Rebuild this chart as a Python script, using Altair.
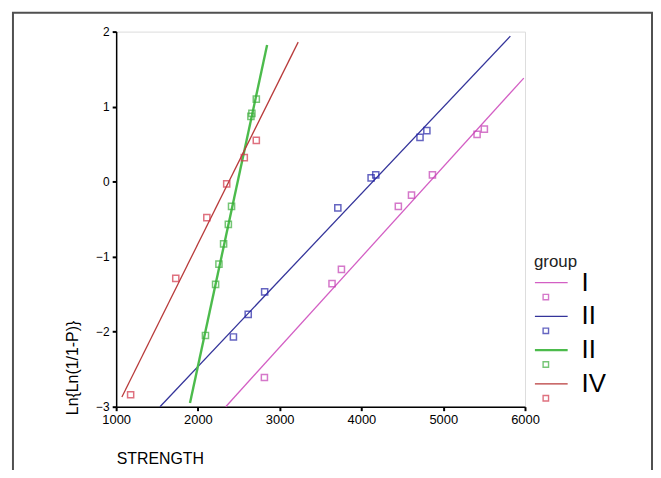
import altair as alt
import pandas as pd

# ---- data ----
groups = ["I", "II", "III", "IV"]
legend_labels = ["I", "II", "II", "IV"]
line_colors = ["#d35fc4", "#34349a", "#4cbb4c", "#b83a3a"]
point_colors = ["#c43fb4", "#2424a8", "#3cae3c", "#d2364a"]
line_widths = [1.3, 1.3, 2.4, 1.3]

I_x = [2813, 3640, 3755, 4451, 4612, 4868, 5414, 5503]
I_y = [-2.61, -1.36, -1.17, -0.33, -0.18, 0.09, 0.63, 0.70]
II_x = [2434, 2615, 2816, 3711, 4118, 4175, 4716, 4800]
II_y = [-2.07, -1.77, -1.47, -0.35, 0.05, 0.09, 0.59, 0.68]
III_x = [2092, 2216, 2257, 2314, 2372, 2411, 2648, 2660, 2714]
III_y = [-2.05, -1.37, -1.10, -0.83, -0.57, -0.33, 0.87, 0.91, 1.10]
IV_x = [1177, 1729, 2109, 2352, 2567, 2714]
IV_y = [-2.84, -1.29, -0.48, -0.03, 0.32, 0.55]

# fitted line end points (x0, x1, y0, y1)
fit_x0 = [2340, 1536, 1903, 1070]
fit_x1 = [5985, 5821, 2846, 3226]
fit_y0 = [-3.0, -3.0, -2.95, -2.87]
fit_y1 = [1.38, 1.94, 1.82, 1.86]

x_ticks = [1000, 2000, 3000, 4000, 5000, 6000]
y_ticks = [-3, -2, -1, 0, 1, 2]

# ---- tables ----
pts = pd.DataFrame(
    [{"group": g, "x": x, "y": y}
     for g, xs, ys in zip(groups, [I_x, II_x, III_x, IV_x], [I_y, II_y, III_y, IV_y])
     for x, y in zip(xs, ys)]
)
fits = pd.DataFrame(
    [{"group": g, "x": x, "y": y, "w": w}
     for g, a, b, c, d, w in zip(groups, fit_x0, fit_x1, fit_y0, fit_y1, line_widths)
     for x, y in ((a, c), (b, d))]
)
leg = pd.DataFrame({"group": groups, "label": legend_labels,
                    "row": list(range(len(groups))), "w": line_widths})
one = pd.DataFrame({"k": [0]})

FONT = "Liberation Sans"
W, H = 412, 378

xscale = alt.Scale(domain=[1000, 6000], nice=False, zero=False)
yscale = alt.Scale(domain=[-3, 2], nice=False, zero=False)
lcol = alt.Scale(domain=groups, range=line_colors)
pcol = alt.Scale(domain=groups, range=point_colors)

xaxis = alt.Axis(values=x_ticks, format="d", title="STRENGTH", grid=False,
                 domainColor="black", domainWidth=1.5, tickColor="black",
                 tickSize=4, tickWidth=2, labelFontSize=13, labelFont=FONT,
                 labelColor="black", labelPadding=3, labelFlush=False,
                 titleFont=FONT, titleFontSize=16, titleFontWeight="normal",
                 titleColor="black", titleAnchor="start", titleAlign="left",
                 titleBaseline="middle", titleX=0, titleY=52)
yaxis = alt.Axis(values=y_ticks, format="d", title="Ln{Ln(1/1-P)}", grid=False,
                 domainColor="black", domainWidth=1.5, tickColor="black",
                 tickSize=4, tickWidth=2, labelFontSize=12, labelFont=FONT,
                 labelColor="black", labelPadding=3, labelFlush=False,
                 titleFont=FONT, titleFontSize=16, titleFontWeight="normal",
                 titleColor="black", titleAngle=270, titleAlign="left",
                 titleBaseline="middle", titleX=-44, titleY=386)

frame = alt.Chart(one).mark_rect(fillOpacity=0, stroke="#505050", strokeWidth=2).encode(
    x=alt.value(-104), x2=alt.value(540), y=alt.value(-19), y2=alt.value(480)
)

lines = alt.Chart(fits).mark_line().encode(
    x=alt.X("x:Q", scale=xscale, axis=xaxis),
    y=alt.Y("y:Q", scale=yscale, axis=yaxis),
    color=alt.Color("group:N", scale=lcol, legend=None),
    strokeWidth=alt.StrokeWidth("w:Q", scale=None, legend=None),
    detail="group:N",
)

points = alt.Chart(pts).mark_point(shape="square", filled=False, size=38, strokeWidth=1.5).encode(
    x=alt.X("x:Q", scale=xscale, axis=xaxis),
    y=alt.Y("y:Q", scale=yscale, axis=None),
    color=alt.Color("group:N", scale=pcol, legend=None),
)

legscale = alt.Scale(domain=[0, 3], range=[253, 355])

leg_lines = alt.Chart(leg).mark_rule().encode(
    x=alt.value(422), x2=alt.value(455),
    y=alt.Y("row:Q", scale=legscale, axis=None),
    color=alt.Color("group:N", scale=lcol, legend=None),
    strokeWidth=alt.StrokeWidth("w:Q", scale=None, legend=None),
)
leg_pts = alt.Chart(leg).mark_point(shape="square", filled=False, size=30, strokeWidth=1.4).encode(
    x=alt.value(433),
    y=alt.Y("row:Q", scale=legscale, axis=None),
    yOffset=alt.value(14.5),
    color=alt.Color("group:N", scale=pcol, legend=None),
)
leg_text = alt.Chart(leg).mark_text(align="left", baseline="middle", font=FONT,
                                    fontSize=26, color="black").encode(
    x=alt.value(469),
    y=alt.Y("row:Q", scale=legscale, axis=None),
    text="label:N",
)
leg_title = alt.Chart(one).mark_text(align="left", baseline="alphabetic", font=FONT,
                                     fontSize=17, color="#222222").encode(
    x=alt.value(421), y=alt.value(237), text=alt.value("group")
)

chart = alt.layer(frame, lines, points, leg_lines, leg_pts, leg_text, leg_title).resolve_scale(
    y="independent", color="independent"
).properties(
    width=W, height=H,
    autosize=alt.AutoSizeParams(type="none"),
    padding={"left": 109, "top": 22, "right": 129, "bottom": 62},
).configure_view(strokeWidth=0, stroke="transparent").configure(background="white")

chart.save("out.html", embed_options={"renderer": "svg", "actions": False})
